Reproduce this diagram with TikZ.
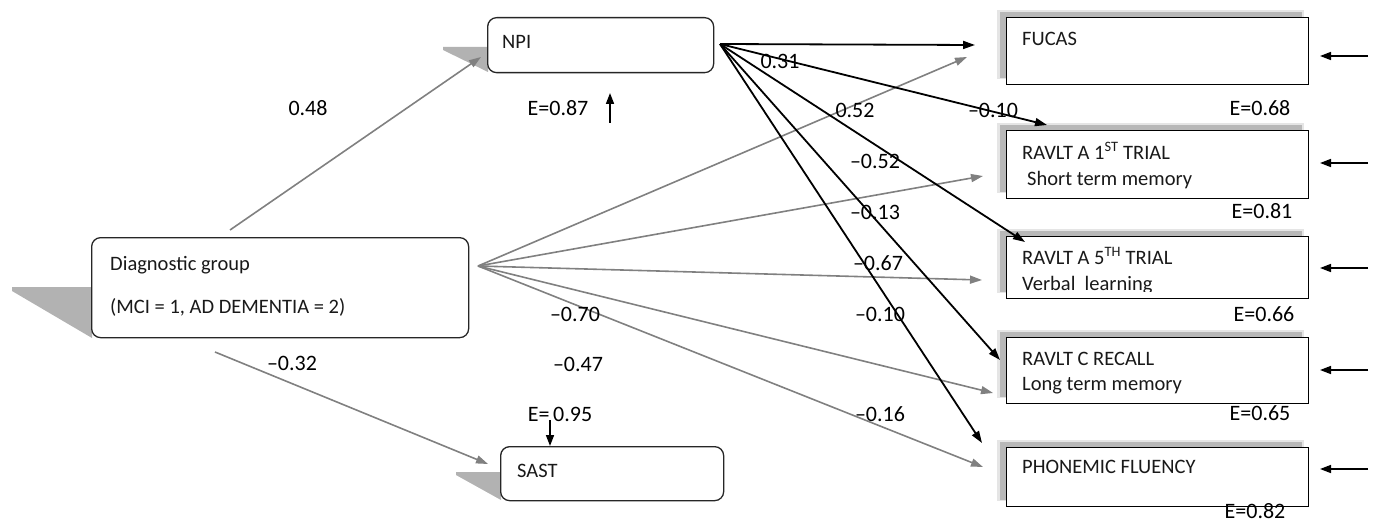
\documentclass[tikz,border=0pt]{standalone}
\usepackage{fontspec}
\setmainfont{Carlito}
\usetikzlibrary{arrows.meta}
\begin{document}
\begin{tikzpicture}[x=1pt,y=-1pt,
 rbox/.style={draw=black!85, line width=1.3pt, rounded corners=9pt, fill=white, anchor=north west, inner sep=0pt},
 sbox/.style={draw=black, line width=1.4pt, fill=white, anchor=north west, inner sep=0pt},
 shad/.style={fill=black!30},
 txt/.style={font=\fontsize{20.5}{23}\selectfont, anchor=base west, inner sep=0pt, text=black!90},
 lab/.style={font=\fontsize{22}{25}\selectfont, inner sep=0pt},
 garr/.style={draw=black!50, line width=1.6pt, -{Triangle[length=12pt,width=8pt]}},
 barr/.style={draw=black, line width=1.8pt, -{Triangle[length=12pt,width=8pt]}},
 earr/.style={draw=black, line width=1.6pt, -{Triangle[length=11pt,width=8pt]}},
]
\useasboundingbox (0,0) rectangle (1375,524);
% shadows of the rounded boxes
\fill[shad] (12,287) -- (92,287) -- (92,338) -- (12,291) -- cycle;
\fill[shad] (443,47) -- (488,47) -- (488,72) -- (443,50) -- cycle;
\fill[shad] (456,472) -- (501,472) -- (501,500) -- (456,475) -- cycle;
% shadows of the square boxes
\foreach \yt/\yb in {17/84,130/198,236/298,337/403,447/506}{
  \fill[black!10] (997,\yt-7) rectangle (1304,\yb-5);
  \fill[black!28] (1000,\yt-5) rectangle (1302,\yb-6);
}
% boxes
\node[rbox, minimum width=377pt, minimum height=100pt] (dg) at (91,237) {};
\node[rbox, minimum width=226pt, minimum height=55pt] (npi) at (487,17) {};
\node[rbox, minimum width=223pt, minimum height=54pt] (sast) at (500,446) {};
\node[sbox, minimum width=302pt, minimum height=67pt] (fucas) at (1006,17) {};
\node[sbox, minimum width=302pt, minimum height=68pt] (ra1) at (1006,130) {};
\node[sbox, minimum width=302pt, minimum height=62pt] (ra5) at (1006,236) {};
\node[sbox, minimum width=302pt, minimum height=66pt] (rc) at (1006,337) {};
\node[sbox, minimum width=302pt, minimum height=59pt] (pf) at (1006,447) {};
% box texts
\node[txt] (t1) at (110,270) {Diagnostic group};
\node[txt] (t2) at (110,313) {(MCI = 1, AD DEMENTIA = 2)};
\node[txt] (t3) at (502,49) {NPI};
\node[txt] (t4) at (517,477) {SAST};
\node[txt] (t5) at (1022,46) {FUCAS};
\node[txt] (t6) at (1022,159) {RAVLT A 1\textsuperscript{ST} TRIAL};
\node[txt] (t7) at (1027,185) {Short term memory};
\node[txt] (t8) at (1022,264) {RAVLT A 5\textsuperscript{TH} TRIAL};
\begin{scope}
\clip (1006,236) rectangle (1308,291);
\node[txt] (t9) at (1022,290) {Verbal\ \ learning};
\end{scope}
\node[txt] (t10) at (1022,365) {RAVLT C RECALL};
\node[txt] (t11) at (1022,390) {Long term memory};
\node[txt] (t12) at (1022,473) {PHONEMIC FLUENCY};
% connector coordinates
\coordinate (dgout) at (478,266);
\coordinate (dgtop) at (230,230);
\coordinate (dgbot) at (215,352);
\coordinate (npiout) at (720,44);
\coordinate (tnpi) at (481,57);
\coordinate (tsast) at (488,464);
\coordinate (gF) at (967,57);
\coordinate (gA1) at (983,176);
\coordinate (gA5) at (982,280);
\coordinate (gC) at (993,393);
\coordinate (gP) at (983,467);
\coordinate (bF) at (975,45);
\coordinate (bA1) at (1047,125);
\coordinate (bA5) at (1025,242);
\coordinate (bC) at (1000,360);
\coordinate (bP) at (982,443);
% grey paths
\draw[garr] (dgtop) -- (tnpi);
\draw[garr] (dgbot) -- (tsast);
\foreach \t in {gF,gA1,gA5,gC,gP}{\draw[garr] (dgout) -- (\t);}
% black paths
\foreach \t in {bF,bA1,bA5,bC,bP}{\draw[barr] (npiout) -- (\t);}
% error arrows
\coordinate (en1) at (610,123); \coordinate (en2) at (610,93);
\draw[earr] (en1) -- (en2);
\coordinate (es1) at (550,420); \coordinate (es2) at (550,446);
\draw[earr] (es1) -- (es2);
\foreach \y [count=\i] in {56,163,268,370,469}{
  \coordinate (ea\i) at (1368,\y); \coordinate (eb\i) at (1320,\y);
  \draw[earr] (ea\i) -- (eb\i);
}
% coefficient labels
\node[lab] (l1) at (308,108) {0.48};
\node[lab] (l2) at (292,363) {\textendash0.32};
\node[lab] (l3) at (780,61) {0.31};
\node[lab] (l4) at (855,110) {0.52};
\node[lab] (l5) at (993,110) {\textendash0.10};
\node[lab] (l6) at (875,161) {\textendash0.52};
\node[lab] (l7) at (875,212) {\textendash0.13};
\node[lab] (l8) at (878,263) {\textendash0.67};
\node[lab] (l9) at (575,314) {\textendash0.70};
\node[lab] (l10) at (880,314) {\textendash0.10};
\node[lab] (l11) at (578,364) {\textendash0.47};
\node[lab] (l12) at (880,414) {\textendash0.16};
% error labels
\node[lab] (e0) at (558,108) {E=0.87};
\node[lab] (e1) at (560,414) {E=\,0.95};
\node[lab] (e2) at (1260,108) {E=0.68};
\node[lab] (e3) at (1262,211) {E=0.81};
\node[lab] (e4) at (1264,314) {E=0.66};
\node[lab] (e5) at (1260,413) {E=0.65};
\node[lab] (e6) at (1255,511) {E=0.82};
\end{tikzpicture}
\end{document}
